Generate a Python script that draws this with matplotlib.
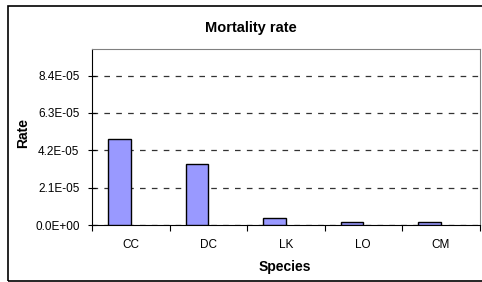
import numpy as np
import matplotlib
matplotlib.use("Agg")
import matplotlib.pyplot as plt
from matplotlib.patches import Rectangle
from matplotlib.ticker import FixedLocator, FuncFormatter

plt.rcParams['font.family'] = ['Liberation Sans', 'DejaVu Sans']

species = ["CC", "DC", "LK", "LO", "CM"]
rates = [4.85e-05, 3.45e-05, 3.8e-06, 1.5e-06, 1.5e-06]
yticks = [0.0, 2.1e-05, 4.2e-05, 6.3e-05, 8.4e-05]

fig = plt.figure(figsize=(4.82, 2.82), dpi=100)
ax = fig.add_axes([92 / 482, 1 - 225 / 282, (479.5 - 92) / 482, (225 - 49) / 282])

x = np.arange(len(species))
ax.bar(x - 0.145, rates, width=0.29, color="#9999FF", edgecolor="black", linewidth=1, zorder=3)

ax.set_xlim(-0.5, len(species) - 0.5)
ax.set_ylim(0, 9.9e-05)
ax.set_xticks(x)
ax.set_xticklabels(species, fontsize=8.5)
ax.xaxis.set_minor_locator(FixedLocator(np.arange(-0.5, len(species), 1.0)))
ax.tick_params(axis="x", which="major", length=0, pad=10)
ax.tick_params(axis="x", which="minor", length=4, direction="out", width=0.8)

ax.yaxis.set_major_locator(FixedLocator(yticks))
ax.yaxis.set_major_formatter(FuncFormatter(lambda v, p: f"{v:.1E}"))
ax.tick_params(axis="y", length=6, direction="inout", width=0.8, labelsize=8.5, pad=6)

ax.grid(axis="y", color="#333333", linestyle=(0, (4.5, 5)), linewidth=0.9, zorder=0)
ax.set_axisbelow(True)

for side in ["top", "right"]:
    ax.spines[side].set_color("#808080")
for side in ["left", "bottom"]:
    ax.spines[side].set_color("black")

fig.text(251 / 482, 1 - 28 / 282, "Mortality rate", ha="center", va="center",
         fontsize=10.5, fontweight="bold")
fig.text(23 / 482, 1 - 133 / 282, "Rate", ha="center", va="center", rotation=90,
         fontsize=10, fontweight="bold")
fig.text(285 / 482, 1 - 267 / 282, "Species", ha="center", va="center",
         fontsize=10, fontweight="bold")

fig.patches.append(Rectangle((8 / 482, 1 / 282), 1.0, 275 / 282, transform=fig.transFigure,
                             fill=False, edgecolor="black", linewidth=1.2))

fig.savefig("out.png", dpi=100)
